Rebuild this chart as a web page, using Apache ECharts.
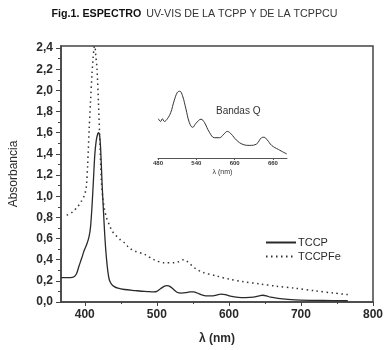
<!DOCTYPE html>
<html>
<head>
<meta charset="utf-8">
<script src="https://cdn.jsdelivr.net/npm/echarts@6/dist/echarts.min.js"></script>
<style>
    html, body { margin: 0; padding: 0; background: #fff; }
    #chart { width: 389px; height: 350px; }
</style>
</head>
<body>
<div id="chart"></div>
<script>
// TCCP (solid) spectrum
var tccpNm = [367, 375, 383, 388, 392, 396, 399, 403, 406, 408, 410, 412, 414, 416, 418, 419, 420.5, 422, 424, 426, 428, 430, 432, 434, 437, 441, 446, 455, 470, 483, 490, 496, 500, 505, 510, 514, 518, 523, 528, 534, 540, 546, 551, 556, 562, 568, 576, 583, 589, 595, 602, 613, 623, 634, 642, 647, 652, 658, 668, 682, 700, 730, 765];
var tccpAbs = [0.23, 0.23, 0.232, 0.26, 0.34, 0.42, 0.485, 0.55, 0.62, 0.71, 0.9, 1.15, 1.4, 1.53, 1.59, 1.6, 1.58, 1.45, 1.12, 0.85, 0.6, 0.42, 0.29, 0.21, 0.17, 0.145, 0.13, 0.118, 0.108, 0.1, 0.098, 0.095, 0.1, 0.125, 0.148, 0.155, 0.148, 0.12, 0.092, 0.084, 0.088, 0.096, 0.095, 0.085, 0.068, 0.058, 0.058, 0.066, 0.074, 0.07, 0.056, 0.044, 0.042, 0.046, 0.058, 0.064, 0.058, 0.045, 0.034, 0.025, 0.018, 0.014, 0.012];

// TCCPFe (dotted) spectrum
var tccpFeNm = [375, 383, 390, 395, 399, 402, 404, 406, 408, 410, 411.5, 413, 414, 415, 417, 419, 421, 423, 425, 427, 430, 434, 438, 443, 449, 455, 462, 470, 483, 496, 510, 524, 530, 537, 541, 546, 553, 564, 583, 601, 619, 644, 665, 692, 720, 745, 765];
var tccpFeAbs = [0.82, 0.85, 0.9, 0.95, 1.0, 1.08, 1.3, 1.62, 1.9, 2.15, 2.3, 2.41, 2.42, 2.35, 2.2, 1.88, 1.5, 1.15, 0.98, 0.89, 0.8, 0.73, 0.67, 0.63, 0.59, 0.56, 0.51, 0.48, 0.45, 0.4, 0.37, 0.37, 0.38, 0.4, 0.39, 0.36, 0.32, 0.28, 0.246, 0.215, 0.193, 0.17, 0.15, 0.13, 0.105, 0.085, 0.07];

// inset: Q bands of TCCP
var insetNm = [480.5, 484.2, 486.8, 490, 494.7, 500, 505.3, 510.5, 514.2, 518.4, 523.7, 529, 534.2, 539.5, 547.4, 552.6, 560.5, 568.4, 576.3, 583.2, 588.4, 594.7, 602.6, 613.2, 623.7, 634.2, 642.1, 645.8, 651.1, 657.9, 668.4, 681.6];
var insetAbs = [0.097, 0.091, 0.097, 0.091, 0.097, 0.111, 0.137, 0.156, 0.158, 0.148, 0.119, 0.089, 0.078, 0.087, 0.096, 0.089, 0.067, 0.055, 0.055, 0.063, 0.069, 0.063, 0.05, 0.04, 0.038, 0.041, 0.055, 0.056, 0.05, 0.038, 0.029, 0.019];

var xMajor = [400, 500, 600, 700, 800];
var xMinor = [450, 550, 650, 750];
var yMajor = [0, 0.2, 0.4, 0.6, 0.8, 1.0, 1.2, 1.4, 1.6, 1.8, 2.0, 2.2, 2.4];
var yMinor = [0.1, 0.3, 0.5, 0.7, 0.9, 1.1, 1.3, 1.5, 1.7, 1.9, 2.1, 2.3];
var insetTicks = [480, 540, 600, 660];

function pairs(xs, ys) {
    var out = [];
    for (var i = 0; i < xs.length; i++) out.push([xs[i], ys[i]]);
    return out;
}

var ink = '#2a2a2a';
var font = 'Liberation Sans, Arial, sans-serif';

var chart = echarts.init(document.getElementById('chart'), null, { renderer: 'canvas' });
chart.setOption({
    animation: false,
    backgroundColor: '#fff',
    textStyle: { fontFamily: font },
    title: {
        text: '{b|Fig.1. ESPECTRO} {n|UV-VIS DE LA TCPP Y DE LA TCPPCU}',
        left: 'center',
        top: 5,
        padding: 0,
        textStyle: {
            fontWeight: 'normal',
            rich: {
                b: { fontSize: 10.7, color: '#111', fontWeight: 'bold', fontFamily: font },
                n: { fontSize: 10.7, color: '#333', fontWeight: 'normal', fontFamily: font }
            }
        }
    },
    legend: {
        orient: 'vertical',
        left: 260,
        top: 232,
        itemWidth: 30,
        itemHeight: 8,
        itemGap: 3,
        data: ['TCCP', 'TCCPFe'],
        itemStyle: { opacity: 0 },
        textStyle: { color: ink, fontSize: 11, fontFamily: font, padding: [0, 0, 0, -3] }
    },
    graphic: [{
        type: 'text',
        left: 216,
        top: 106,
        style: { text: 'Bandas Q', fill: '#333', font: '10px ' + font }
    }],
    grid: [
        { left: 55, top: 46, right: 16, bottom: 48, show: true, borderColor: '#444', borderWidth: 1.5 },
        { left: 158, top: 80, width: 129, height: 78 }
    ],
    xAxis: [
        {
            type: 'value', gridIndex: 0, min: 367, max: 800, position: 'bottom',
            name: 'λ (nm)', nameLocation: 'middle', nameGap: 31,
            nameTextStyle: { color: ink, fontSize: 12, fontWeight: 'bold' },
            axisLine: { onZero: false, lineStyle: { color: '#444', width: 1.5 } },
            axisTick: { customValues: xMajor, length: 4, lineStyle: { color: '#444' } },
            axisLabel: { customValues: xMajor, color: ink, fontSize: 12, fontWeight: 'bold', margin: 7 },
            splitLine: { show: false }
        },
        {
            type: 'value', gridIndex: 0, min: 367, max: 800, position: 'bottom',
            axisLine: { show: false, onZero: false },
            axisTick: { customValues: xMinor, length: 2, lineStyle: { color: '#444' } },
            axisLabel: { show: false },
            splitLine: { show: false }
        },
        {
            type: 'value', gridIndex: 1, min: 480, max: 682, position: 'bottom',
            name: 'λ (nm)', nameLocation: 'middle', nameGap: 11,
            nameTextStyle: { color: '#333', fontSize: 7 },
            axisLine: { onZero: false, lineStyle: { color: '#555', width: 1 } },
            axisTick: { customValues: insetTicks, length: 2, lineStyle: { color: '#555' } },
            axisLabel: { customValues: insetTicks, color: '#333', fontSize: 6, fontWeight: 'bold', margin: 2 },
            splitLine: { show: false }
        }
    ],
    yAxis: [
        {
            type: 'value', gridIndex: 0, min: 0, max: 2.42, position: 'left',
            name: 'Absorbancia', nameLocation: 'middle', nameGap: 41,
            nameTextStyle: { color: ink, fontSize: 12 },
            axisLine: { show: true, lineStyle: { color: '#444', width: 1.5 } },
            axisTick: { customValues: yMajor, length: 5, lineStyle: { color: '#444' } },
            axisLabel: {
                customValues: yMajor, color: ink, fontSize: 12, fontWeight: 'bold', margin: 8,
                formatter: function (v) { return v.toFixed(1).replace('.', ','); }
            },
            splitLine: { show: false }
        },
        {
            type: 'value', gridIndex: 0, min: 0, max: 2.42, position: 'left',
            axisLine: { show: false, onZero: false },
            axisTick: { show: true, customValues: yMinor, length: 3, lineStyle: { color: '#444' } },
            axisLabel: { show: false },
            splitLine: { show: false }
        },
        {
            type: 'value', gridIndex: 1, min: 0.01, max: 0.183,
            show: false
        }
    ],
    series: [
        {
            name: 'TCCP', type: 'line', xAxisIndex: 0, yAxisIndex: 0,
            data: pairs(tccpNm, tccpAbs), symbol: 'none', smooth: 0.3,
            lineStyle: { color: '#2a2a2a', width: 1.3 }, itemStyle: { color: '#2a2a2a' }
        },
        {
            name: 'TCCPFe', type: 'line', xAxisIndex: 0, yAxisIndex: 0,
            data: pairs(tccpFeNm, tccpFeAbs), symbol: 'none', smooth: 0.3,
            lineStyle: { color: '#333', width: 1.5, type: [1.5, 3.5] }, itemStyle: { color: '#333' }
        },
        {
            name: 'inset', type: 'line', xAxisIndex: 2, yAxisIndex: 2,
            data: pairs(insetNm, insetAbs), symbol: 'none', smooth: 0.4,
            lineStyle: { color: '#333', width: 1 }
        }
    ]
});
</script>
</body>
</html>
